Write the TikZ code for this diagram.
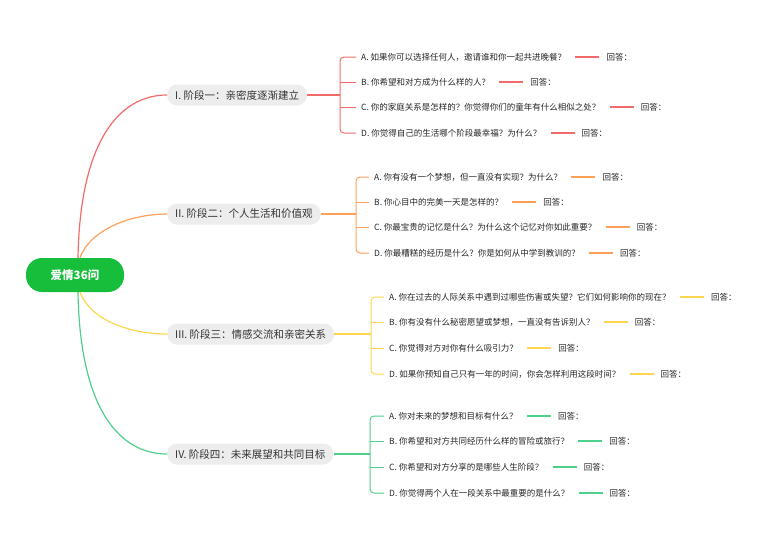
\documentclass[tikz,border=0pt]{standalone}
\usepackage{fontspec}
\setmainfont{Noto Sans CJK SC}
\begin{document}
\begin{tikzpicture}[x=1pt,y=-1pt,
  q/.style={anchor=west,inner sep=1pt,font=\fontsize{8.5}{9}\selectfont,text=black!85},
  ans/.style={anchor=west,inner sep=1pt,font=\fontsize{8.5}{9}\selectfont,text=black!85},
  br/.style={fill=gray!14,rounded corners=10pt,minimum height=21pt,inner xsep=8pt,font=\fontsize{10.5}{12}\selectfont,text=black!80},
  ln/.style={line width=1.2pt}]
\definecolor{cR}{HTML}{F26B6B}\definecolor{cO}{HTML}{FFA05A}
\definecolor{cY}{HTML}{FFD54F}\definecolor{cG}{HTML}{4CD08A}
\definecolor{root}{HTML}{17BE3C}
\useasboundingbox (0,0) rectangle (771,552);
\node[fill=root,rounded corners=16pt,minimum width=98pt,minimum height=34pt,text=white,font=\fontsize{11.5}{13}\bfseries\selectfont] (r) at (75,275) {爱情36问};
\node[br,anchor=west] (b1) at (167,95) {I. 阶段一：亲密度逐渐建立};
\node[br,anchor=west] (b2) at (167,214) {II. 阶段二：个人生活和价值观};
\node[br,anchor=west] (b3) at (167,334) {III. 阶段三：情感交流和亲密关系};
\node[br,anchor=west] (b4) at (167,454) {IV. 阶段四：未来展望和共同目标};
\draw[ln,cR] (r.north) ++(3,0) .. controls (80,140) and (120,95) .. (b1.west);
\draw[ln,cO] (r.north) ++(5,0) .. controls (90,230) and (130,214) .. (b2.west);
\draw[ln,cY] (r.south) ++(5,0) .. controls (90,320) and (130,334) .. (b3.west);
\draw[ln,cG] (r.south) ++(3,0) .. controls (80,410) and (120,454) .. (b4.west);
\foreach \c/\b/\bx/\tx/\tag/\ya/\yb/\yc/\yd/\qa/\qb/\qc/\qd in {
 cR/b1/340/360/p/57/82/107/133/{A. 如果你可以选择任何人，邀请谁和你一起共进晚餐？}/{B. 你希望和对方成为什么样的人？}/{C. 你的家庭关系是怎样的？你觉得你们的童年有什么相似之处？}/{D. 你觉得自己的生活哪个阶段最幸福？为什么？},
 cO/b2/356/373/q/177/202/227/253/{A. 你有没有一个梦想，但一直没有实现？为什么？}/{B. 你心目中的完美一天是怎样的？}/{C. 你最宝贵的记忆是什么？为什么这个记忆对你如此重要？}/{D. 你最糟糕的经历是什么？你是如何从中学到教训的？},
 cY/b3/371/388/s/297/322/348/374/{A. 你在过去的人际关系中遇到过哪些伤害或失望？它们如何影响你的现在？}/{B. 你有没有什么秘密愿望或梦想，一直没有告诉别人？}/{C. 你觉得对方对你有什么吸引力？}/{D. 如果你预知自己只有一年的时间，你会怎样利用这段时间？},
 cG/b4/370/388/t/416/441/467/493/{A. 你对未来的梦想和目标有什么？}/{B. 你希望和对方共同经历什么样的冒险或旅行？}/{C. 你希望和对方分享的是哪些人生阶段？}/{D. 你觉得两个人在一段关系中最重要的是什么？}}{
 \draw[ln,\c] (\b.east) -- (\bx,0 |- \b.east);
 \draw[line width=1pt,\c,rounded corners=4pt] (\tx-4,\ya) -- (\bx,\ya) -- (\bx,\yd) -- (\tx-4,\yd);
 \draw[line width=1pt,\c] (\bx,\yb) -- (\tx-4,\yb) (\bx,\yc) -- (\tx-4,\yc);
 \foreach \k/\y/\qq in {1/\ya/\qa,2/\yb/\qb,3/\yc/\qc,4/\yd/\qd}{
  \node[q] (\tag\k) at (\tx,\y) {\qq};
  \node[ans] (\tag a\k) at ([xshift=38pt]\tag\k.east) {回答：};
  \draw[ln,\c] ([xshift=8pt]\tag\k.east) -- ([xshift=-6pt]\tag a\k.west);
 }
}
\end{tikzpicture}
\end{document}
